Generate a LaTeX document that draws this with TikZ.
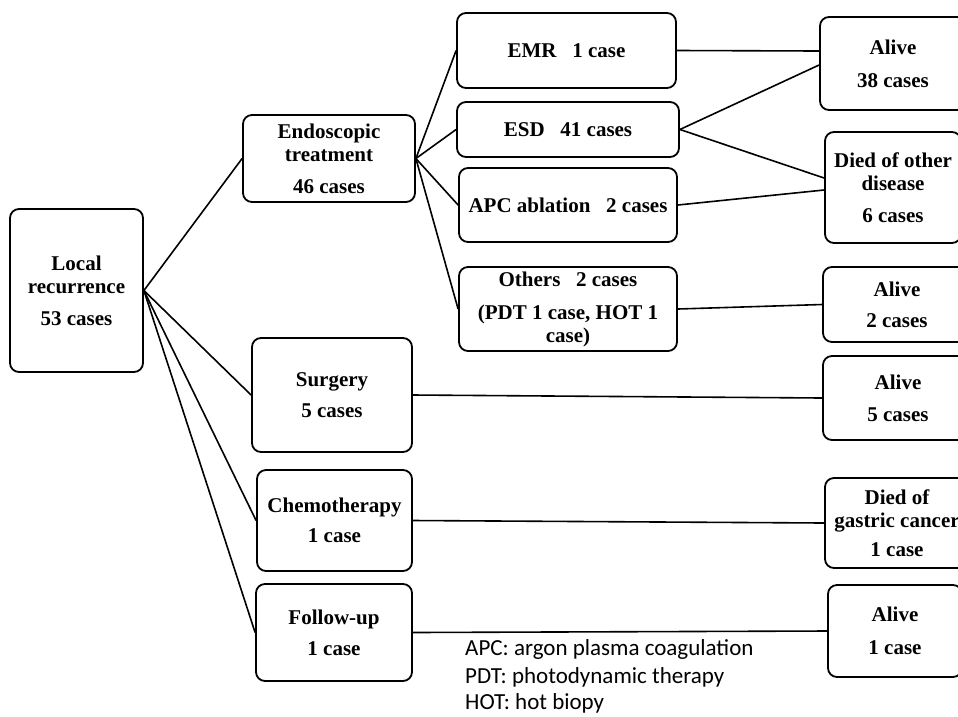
\documentclass[tikz,border=0pt]{standalone}
\usepackage{fontspec}
\setmainfont{Liberation Serif}
\newfontfamily\legfont{Carlito}
\begin{document}
\begin{tikzpicture}[x=1pt,y=-1pt,
  box/.style={draw, line width=1.8pt, rounded corners=9pt, inner sep=0pt, align=center,
    font=\fontsize{21}{23}\selectfont\bfseries},
  link/.style={line width=1.6pt},
  legend/.style={anchor=base west, inner sep=0pt, font=\legfont\fontsize{23}{29}\selectfont}]
\useasboundingbox (0,0) rectangle (958,716);
\newcommand{\wgap}{\hspace{0.75em}}
% left column
\node[box, minimum width=133pt, minimum height=163pt] (LR) at (76.5,290.5) {Local\\recurrence\\[9pt]53 cases};
% second column
\node[box, minimum width=172pt, minimum height=87pt] (ET) at (329,158.5) {Endoscopic\\treatment\\[9pt]46 cases};
\node[box, minimum width=160pt, minimum height=114pt] (SUR) at (332,395) {Surgery\\[8pt]5 cases};
\node[box, minimum width=155pt, minimum height=101pt] (CHE) at (334.5,520.5) {Chemotherapy\\[7pt]1 case};
\node[box, minimum width=156pt, minimum height=97pt] (FOL) at (334,632.5) {Follow-up\\[8pt]1 case};
% third column
\node[box, minimum width=219pt, minimum height=75pt] (EMR) at (566.5,50.5) {EMR\wgap 1 case};
\node[box, minimum width=222pt, minimum height=55pt] (ESD) at (568,129.5) {ESD\wgap 41 cases};
\node[box, minimum width=218pt, minimum height=74pt] (APC) at (568,205) {APC ablation\wgap 2 cases};
\node[box, minimum width=218pt, minimum height=84pt] (OTH) at (568,309) {Others\wgap 2 cases\\[10pt](PDT 1 case, HOT 1\\case)};
% right column
\node[box, minimum width=146pt, minimum height=93pt] (A38) at (893,63.5) {Alive\\[10pt]38 cases};
\node[box, minimum width=136pt, minimum height=111pt] (DOD) at (893,187.5) {Died of other\\disease\\[9pt]6 cases};
\node[box, minimum width=148pt, minimum height=75pt] (A2) at (897,304.5) {Alive\\[8pt]2 cases};
\node[box, minimum width=150pt, minimum height=84pt] (A5) at (898,398) {Alive\\[9pt]5 cases};
\node[box, minimum width=144pt, minimum height=90pt] (DGC) at (897,523) {Died of\\gastric cancer\\[6pt]1 case};
\node[box, minimum width=134pt, minimum height=92pt] (A1) at (895,631) {Alive\\[10pt]1 case};
% connectors
\draw[link] (LR.east) -- (ET.west);
\draw[link] (LR.east) -- (SUR.west);
\draw[link] (LR.east) -- (CHE.west);
\draw[link] (LR.east) -- (FOL.west);
\draw[link] (ET.east) -- (EMR.west);
\draw[link] (ET.east) -- (ESD.west);
\draw[link] (ET.east) -- (APC.west);
\draw[link] (ET.east) -- (OTH.west);
\draw[link] (EMR.east) -- ([yshift=12.5pt]A38.west);
\draw[link] (ESD.east) -- ([yshift=-1.5pt]A38.west);
\draw[link] (ESD.east) -- ([yshift=9.5pt]DOD.west);
\draw[link] (APC.east) -- ([yshift=-2.5pt]DOD.west);
\draw[link] (OTH.east) -- (A2.west);
\draw[link] (SUR.east) -- (A5.west);
\draw[link] (CHE.east) -- (DGC.west);
\draw[link] (FOL.east) -- (A1.west);
% legend
\node[legend] (legA) at (465,655) {APC: argon plasma coagulation};
\node[legend] (legB) at (465,683) {PDT: photodynamic therapy};
\node[legend] (legC) at (465,709.5) {HOT: hot biopy};
\end{tikzpicture}
\end{document}
